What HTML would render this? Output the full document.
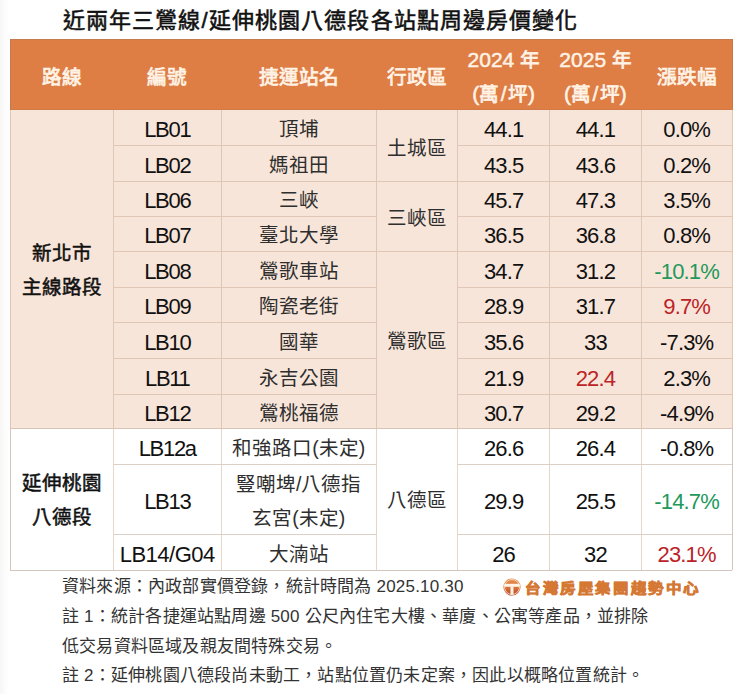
<!DOCTYPE html>
<html lang="zh-TW">
<head>
<meta charset="utf-8">
<style>
html,body{margin:0;padding:0;width:750px;height:694px;overflow:hidden;}
body{font-family:"Liberation Sans",sans-serif;color:#111;position:relative;background:linear-gradient(to right,#f6f6f6 0,#fcfcfc 5px,#fff 9px);}
.title{position:absolute;left:63px;top:2px;font-size:22px;font-weight:normal;-webkit-text-stroke:0.55px #111;white-space:nowrap;letter-spacing:1.1px;}
.c{position:absolute;display:flex;flex-direction:column;align-items:center;justify-content:center;text-align:center;box-sizing:border-box;white-space:nowrap;}
.n{display:block;}
.d{font-size:22px;letter-spacing:-0.85px;padding-top:5px;line-height:34px;}
.k{font-size:19.5px;padding-top:3px;line-height:34px;color:#2e2e2e;}
.cd{letter-spacing:-1.3px;}
.b2{-webkit-text-stroke:0.5px #111;line-height:33.5px;color:#111;}
.hc{color:#FFF3E6;-webkit-text-stroke:0.75px #FFF3E6;font-size:19.6px;padding-top:5px;line-height:34px;}
.hl{-webkit-text-stroke:0.5px #FFF3E6;font-size:21px;}
.ln{position:absolute;}
.note{position:absolute;font-size:17px;letter-spacing:0.2px;color:#333;white-space:nowrap;}
.logo{position:absolute;left:525px;top:576px;font-size:15.5px;font-weight:900;color:#D47834;-webkit-text-stroke:0.8px #D47834;white-space:nowrap;letter-spacing:1.6px;transform:scaleY(0.86);transform-origin:0 50%;}
</style>
</head>
<body>
<div class="title">近兩年三鶯線/延伸桃園八德段各站點周邊房價變化</div>
<div style="position:absolute;left:9.5px;top:38.5px;width:723px;height:71.5px;background:#DE7E45;box-sizing:border-box;border:1px solid #C47A4C;border-bottom:1px solid #CF7A47"></div>
<div style="position:absolute;left:10px;top:110px;width:722px;height:318.4px;background:#F8E5D9"></div>
<div style="position:absolute;left:10px;top:428.4px;width:722px;height:141.60000000000002px;background:#fff"></div>
<div class="ln" style="left:113.0px;top:110px;width:1px;height:318.4px;background:#E2C6B5"></div><div class="ln" style="left:113.0px;top:428.4px;width:1px;height:141.60000000000002px;background:#E6D6C9"></div><div class="ln" style="left:220.5px;top:110px;width:1px;height:318.4px;background:#E2C6B5"></div><div class="ln" style="left:220.5px;top:428.4px;width:1px;height:141.60000000000002px;background:#E6D6C9"></div><div class="ln" style="left:376.0px;top:110px;width:1px;height:318.4px;background:#E2C6B5"></div><div class="ln" style="left:376.0px;top:428.4px;width:1px;height:141.60000000000002px;background:#E6D6C9"></div><div class="ln" style="left:457.2px;top:110px;width:1px;height:318.4px;background:#E2C6B5"></div><div class="ln" style="left:457.2px;top:428.4px;width:1px;height:141.60000000000002px;background:#E6D6C9"></div><div class="ln" style="left:549.1px;top:110px;width:1px;height:318.4px;background:#E2C6B5"></div><div class="ln" style="left:549.1px;top:428.4px;width:1px;height:141.60000000000002px;background:#E6D6C9"></div><div class="ln" style="left:640.8px;top:110px;width:1px;height:318.4px;background:#E2C6B5"></div><div class="ln" style="left:640.8px;top:428.4px;width:1px;height:141.60000000000002px;background:#E6D6C9"></div><div class="ln" style="left:9.5px;top:110px;width:1px;height:318.4px;background:#E2C6B5"></div><div class="ln" style="left:731.5px;top:110px;width:1px;height:318.4px;background:#E2C6B5"></div><div class="ln" style="left:9.5px;top:428.4px;width:1px;height:141.60000000000002px;background:#D3C6BE"></div><div class="ln" style="left:731.5px;top:428.4px;width:1px;height:141.60000000000002px;background:#D3C6BE"></div><div class="ln" style="left:113.5px;top:144.8px;width:263.0px;height:1px;background:#E2C6B5"></div><div class="ln" style="left:457.7px;top:144.8px;width:274.3px;height:1px;background:#E2C6B5"></div><div class="ln" style="left:113.5px;top:180.5px;width:263.0px;height:1px;background:#E2C6B5"></div><div class="ln" style="left:457.7px;top:180.5px;width:274.3px;height:1px;background:#E2C6B5"></div><div class="ln" style="left:113.5px;top:215.7px;width:263.0px;height:1px;background:#E2C6B5"></div><div class="ln" style="left:457.7px;top:215.7px;width:274.3px;height:1px;background:#E2C6B5"></div><div class="ln" style="left:113.5px;top:251.1px;width:263.0px;height:1px;background:#E2C6B5"></div><div class="ln" style="left:457.7px;top:251.1px;width:274.3px;height:1px;background:#E2C6B5"></div><div class="ln" style="left:113.5px;top:286.5px;width:263.0px;height:1px;background:#E2C6B5"></div><div class="ln" style="left:457.7px;top:286.5px;width:274.3px;height:1px;background:#E2C6B5"></div><div class="ln" style="left:113.5px;top:322.0px;width:263.0px;height:1px;background:#E2C6B5"></div><div class="ln" style="left:457.7px;top:322.0px;width:274.3px;height:1px;background:#E2C6B5"></div><div class="ln" style="left:113.5px;top:358.0px;width:263.0px;height:1px;background:#E2C6B5"></div><div class="ln" style="left:457.7px;top:358.0px;width:274.3px;height:1px;background:#E2C6B5"></div><div class="ln" style="left:113.5px;top:393.5px;width:263.0px;height:1px;background:#E2C6B5"></div><div class="ln" style="left:457.7px;top:393.5px;width:274.3px;height:1px;background:#E2C6B5"></div><div class="ln" style="left:113.5px;top:463.5px;width:263.0px;height:1px;background:#DCD0C6"></div><div class="ln" style="left:457.7px;top:463.5px;width:274.3px;height:1px;background:#DCD0C6"></div><div class="ln" style="left:113.5px;top:533.8px;width:263.0px;height:1px;background:#DCD0C6"></div><div class="ln" style="left:457.7px;top:533.8px;width:274.3px;height:1px;background:#DCD0C6"></div><div class="ln" style="left:376.5px;top:180.5px;width:81.19999999999999px;height:1px;background:#E2C6B5"></div><div class="ln" style="left:376.5px;top:251.1px;width:81.19999999999999px;height:1px;background:#E2C6B5"></div><div class="ln" style="left:10px;top:427.9px;width:722px;height:1px;background:#D9C3B6"></div><div class="ln" style="left:10px;top:569.5px;width:722px;height:1px;background:#D3C6BE"></div>
<div class="c hc" style="left:10px;top:39px;width:103.5px;height:71px;">路線</div><div class="c hc" style="left:113.5px;top:39px;width:107.5px;height:71px;">編號</div><div class="c hc" style="left:221px;top:39px;width:155.5px;height:71px;">捷運站名</div><div class="c hc" style="left:376.5px;top:39px;width:81.19999999999999px;height:71px;">行政區</div><div class="c hc" style="left:457.7px;top:39px;width:91.90000000000003px;height:71px;"><span class="n"><span class="hl">2024</span> 年</span><span class="n"><span class="hl">(</span>萬<span class="hl" style="margin:0 1.5px">/</span>坪<span class="hl">)</span></span></div><div class="c hc" style="left:549.6px;top:39px;width:91.69999999999993px;height:71px;"><span class="n"><span class="hl">2025</span> 年</span><span class="n"><span class="hl">(</span>萬<span class="hl" style="margin:0 1.5px">/</span>坪<span class="hl">)</span></span></div><div class="c hc" style="left:641.3px;top:39px;width:90.70000000000005px;height:71px;">漲跌幅</div><div class="c d cd" style="left:113.5px;top:110px;width:107.5px;height:35.30000000000001px;">LB01</div><div class="c k" style="left:221px;top:110px;width:155.5px;height:35.30000000000001px;">頂埔</div><div class="c d" style="left:457.7px;top:110px;width:91.90000000000003px;height:35.30000000000001px;">44.1</div><div class="c d" style="left:549.6px;top:110px;width:91.69999999999993px;height:35.30000000000001px;">44.1</div><div class="c d" style="left:641.3px;top:110px;width:90.70000000000005px;height:35.30000000000001px;">0.0%</div><div class="c d cd" style="left:113.5px;top:145.3px;width:107.5px;height:35.69999999999999px;">LB02</div><div class="c k" style="left:221px;top:145.3px;width:155.5px;height:35.69999999999999px;">媽祖田</div><div class="c d" style="left:457.7px;top:145.3px;width:91.90000000000003px;height:35.69999999999999px;">43.5</div><div class="c d" style="left:549.6px;top:145.3px;width:91.69999999999993px;height:35.69999999999999px;">43.6</div><div class="c d" style="left:641.3px;top:145.3px;width:90.70000000000005px;height:35.69999999999999px;">0.2%</div><div class="c d cd" style="left:113.5px;top:181px;width:107.5px;height:35.19999999999999px;">LB06</div><div class="c k" style="left:221px;top:181px;width:155.5px;height:35.19999999999999px;">三峽</div><div class="c d" style="left:457.7px;top:181px;width:91.90000000000003px;height:35.19999999999999px;">45.7</div><div class="c d" style="left:549.6px;top:181px;width:91.69999999999993px;height:35.19999999999999px;">47.3</div><div class="c d" style="left:641.3px;top:181px;width:90.70000000000005px;height:35.19999999999999px;">3.5%</div><div class="c d cd" style="left:113.5px;top:216.2px;width:107.5px;height:35.400000000000006px;">LB07</div><div class="c k" style="left:221px;top:216.2px;width:155.5px;height:35.400000000000006px;">臺北大學</div><div class="c d" style="left:457.7px;top:216.2px;width:91.90000000000003px;height:35.400000000000006px;">36.5</div><div class="c d" style="left:549.6px;top:216.2px;width:91.69999999999993px;height:35.400000000000006px;">36.8</div><div class="c d" style="left:641.3px;top:216.2px;width:90.70000000000005px;height:35.400000000000006px;">0.8%</div><div class="c d cd" style="left:113.5px;top:251.6px;width:107.5px;height:35.400000000000006px;">LB08</div><div class="c k" style="left:221px;top:251.6px;width:155.5px;height:35.400000000000006px;">鶯歌車站</div><div class="c d" style="left:457.7px;top:251.6px;width:91.90000000000003px;height:35.400000000000006px;">34.7</div><div class="c d" style="left:549.6px;top:251.6px;width:91.69999999999993px;height:35.400000000000006px;">31.2</div><div class="c d" style="left:641.3px;top:251.6px;width:90.70000000000005px;height:35.400000000000006px;color:#22995B;">-10.1%</div><div class="c d cd" style="left:113.5px;top:287px;width:107.5px;height:35.5px;">LB09</div><div class="c k" style="left:221px;top:287px;width:155.5px;height:35.5px;">陶瓷老街</div><div class="c d" style="left:457.7px;top:287px;width:91.90000000000003px;height:35.5px;">28.9</div><div class="c d" style="left:549.6px;top:287px;width:91.69999999999993px;height:35.5px;">31.7</div><div class="c d" style="left:641.3px;top:287px;width:90.70000000000005px;height:35.5px;color:#BC2328;">9.7%</div><div class="c d cd" style="left:113.5px;top:322.5px;width:107.5px;height:36.0px;">LB10</div><div class="c k" style="left:221px;top:322.5px;width:155.5px;height:36.0px;">國華</div><div class="c d" style="left:457.7px;top:322.5px;width:91.90000000000003px;height:36.0px;">35.6</div><div class="c d" style="left:549.6px;top:322.5px;width:91.69999999999993px;height:36.0px;">33</div><div class="c d" style="left:641.3px;top:322.5px;width:90.70000000000005px;height:36.0px;">-7.3%</div><div class="c d cd" style="left:113.5px;top:358.5px;width:107.5px;height:35.5px;">LB11</div><div class="c k" style="left:221px;top:358.5px;width:155.5px;height:35.5px;">永吉公園</div><div class="c d" style="left:457.7px;top:358.5px;width:91.90000000000003px;height:35.5px;">21.9</div><div class="c d" style="left:549.6px;top:358.5px;width:91.69999999999993px;height:35.5px;color:#BC2328;">22.4</div><div class="c d" style="left:641.3px;top:358.5px;width:90.70000000000005px;height:35.5px;">2.3%</div><div class="c d cd" style="left:113.5px;top:394px;width:107.5px;height:34.39999999999998px;">LB12</div><div class="c k" style="left:221px;top:394px;width:155.5px;height:34.39999999999998px;">鶯桃福德</div><div class="c d" style="left:457.7px;top:394px;width:91.90000000000003px;height:34.39999999999998px;">30.7</div><div class="c d" style="left:549.6px;top:394px;width:91.69999999999993px;height:34.39999999999998px;">29.2</div><div class="c d" style="left:641.3px;top:394px;width:90.70000000000005px;height:34.39999999999998px;">-4.9%</div><div class="c d cd" style="left:113.5px;top:428.4px;width:107.5px;height:35.60000000000002px;">LB12a</div><div class="c k" style="left:221px;top:428.4px;width:155.5px;height:35.60000000000002px;">和強路口(未定)</div><div class="c d" style="left:457.7px;top:428.4px;width:91.90000000000003px;height:35.60000000000002px;">26.6</div><div class="c d" style="left:549.6px;top:428.4px;width:91.69999999999993px;height:35.60000000000002px;">26.4</div><div class="c d" style="left:641.3px;top:428.4px;width:90.70000000000005px;height:35.60000000000002px;">-0.8%</div><div class="c d cd" style="left:113.5px;top:464px;width:107.5px;height:70.29999999999995px;">LB13</div><div class="c k" style="left:221px;top:464px;width:155.5px;height:70.29999999999995px;"><span class="n">豎嘲埤/八德指</span><span class="n">玄宮(未定)</span></div><div class="c d" style="left:457.7px;top:464px;width:91.90000000000003px;height:70.29999999999995px;">29.9</div><div class="c d" style="left:549.6px;top:464px;width:91.69999999999993px;height:70.29999999999995px;">25.5</div><div class="c d" style="left:641.3px;top:464px;width:90.70000000000005px;height:70.29999999999995px;color:#22995B;">-14.7%</div><div class="c d cd" style="left:113.5px;top:534.3px;width:107.5px;height:35.700000000000045px;letter-spacing:-0.5px;">LB14/G04</div><div class="c k" style="left:221px;top:534.3px;width:155.5px;height:35.700000000000045px;">大湳站</div><div class="c d" style="left:457.7px;top:534.3px;width:91.90000000000003px;height:35.700000000000045px;">26</div><div class="c d" style="left:549.6px;top:534.3px;width:91.69999999999993px;height:35.700000000000045px;">32</div><div class="c d" style="left:641.3px;top:534.3px;width:90.70000000000005px;height:35.700000000000045px;color:#BC2328;">23.1%</div><div class="c k b2" style="left:10px;top:110px;width:103.5px;height:318.4px;"><span class="n">新北市</span><span class="n">主線路段</span></div><div class="c k b2" style="left:10px;top:428.4px;width:103.5px;height:141.60000000000002px;"><span class="n">延伸桃園</span><span class="n">八德段</span></div><div class="c k" style="left:376.5px;top:110px;width:81.19999999999999px;height:71px;padding-top:4px">土城區</div><div class="c k" style="left:376.5px;top:181px;width:81.19999999999999px;height:70.6px;padding-top:3px">三峽區</div><div class="c k" style="left:376.5px;top:251.6px;width:81.19999999999999px;height:176.79999999999998px;padding-top:2px">鶯歌區</div><div class="c k" style="left:376.5px;top:428.4px;width:81.19999999999999px;height:141.60000000000002px;padding-top:1px">八德區</div>
<div class="note" style="left:62px;top:572px">資料來源：內政部實價登錄，統計時間為 2025.10.30</div>
<div class="note" style="left:62px;top:602px">註 1：統計各捷運站點周邊 500 公尺內住宅大樓、華廈、公寓等產品，並排除</div>
<div class="note" style="left:62px;top:632px">低交易資料區域及親友間特殊交易。</div>
<div class="note" style="left:62px;top:661px">註 2：延伸桃園八德段尚未動工，站點位置仍未定案，因此以概略位置統計。</div>
<svg style="position:absolute;left:503.4px;top:578.2px" width="18" height="18" viewBox="0 0 18 18">
<defs><linearGradient id="g" x1="0" y1="0" x2="0" y2="1"><stop offset="0" stop-color="#E99350"/><stop offset="0.55" stop-color="#D8703A"/><stop offset="1" stop-color="#B4492B"/></linearGradient></defs>
<circle cx="9" cy="9" r="8.6" fill="url(#g)"/>
<circle cx="9" cy="9" r="7.5" fill="none" stroke="#F8DCC0" stroke-width="0.9"/>
<rect x="1.3" y="5.8" width="15.4" height="3" fill="#FFF4E6"/>
<rect x="7.5" y="8.6" width="3" height="8" fill="#FFF4E6"/>
</svg>
<div class="logo">台灣房屋集團趨勢中心</div>
</body>
</html>
